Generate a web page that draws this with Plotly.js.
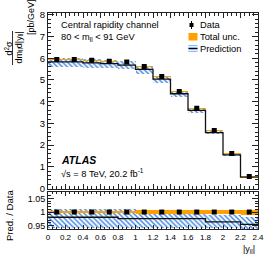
<!DOCTYPE html>
<html>
<head>
<meta charset="utf-8">
<script src="https://cdn.plot.ly/plotly-3.0.1.min.js"></script>
<style>html,body{margin:0;padding:0;background:#fff}#chart{width:266px;height:256px}</style>
</head>
<body>
<div id="chart"></div>
<script>
// |y_ll| bins (centres), bin width 0.2
var binCenters = [0.1, 0.3, 0.5, 0.7, 0.9, 1.1, 1.3, 1.5, 1.7, 1.9, 2.1, 2.3];
var binEdges = [0, 0.2, 0.4, 0.6, 0.8, 1.0, 1.2, 1.4, 1.6, 1.8, 2.0, 2.2, 2.4];
// measured cross section [pb/GeV]
var dataValues = [5.94, 5.94, 5.90, 5.86, 5.82, 5.62, 5.16, 4.47, 3.69, 2.67, 1.61, 0.55];
// relative total uncertainty on data (half width)
var totalUnc = [0.003, 0.003, 0.003, 0.003, 0.003, 0.006, 0.006, 0.006, 0.006, 0.006, 0.006, 0.009];
// prediction / data ratio and its uncertainty band (ratio units)
var predRatio = [0.981, 0.981, 0.981, 0.981, 0.976, 0.976, 0.976, 0.976, 0.976, 0.964, 0.964, 0.955];
var predLow  = [0.943, 0.943, 0.943, 0.943, 0.943, 0.940, 0.940, 0.940, 0.940, 0.940, 0.940, 0.935];
var predHigh = [1.012, 1.012, 1.012, 1.012, 1.012, 0.992, 0.992, 0.992, 0.992, 0.990, 0.990, 0.982];

var BLUE = '#3a80e0', ORANGE = '#ffa000', AX = '#222';
var FONT = 'Liberation Sans, Arial, sans-serif';

function stepY(arr){ return arr.concat([arr[arr.length-1]]); }
var predTop = dataValues.map(function(d,i){return d*predRatio[i];});
var ones = dataValues.map(function(){return 1;});

var hatch = {shape:'\\', fgcolor:BLUE, bgcolor:'white', size:3.5, solidity:0.4};

var traces = [
  // top panel
  {type:'bar', x:binCenters, width:0.2, xaxis:'x', yaxis:'y',
   base:dataValues.map(function(d,i){return d*predLow[i];}),
   y:dataValues.map(function(d,i){return d*(predHigh[i]-predLow[i]);}),
   marker:{color:'white', line:{width:0}, pattern:hatch}, showlegend:false, hoverinfo:'skip'},
  {type:'bar', x:binCenters, width:0.2, xaxis:'x', yaxis:'y',
   base:dataValues.map(function(d,i){return d*(1-totalUnc[i]);}),
   y:dataValues.map(function(d,i){return d*2*totalUnc[i];}),
   marker:{color:ORANGE, line:{width:0}}, showlegend:false, hoverinfo:'skip'},
  {type:'scatter', mode:'lines', x:binEdges, y:stepY(predTop), xaxis:'x', yaxis:'y',
   line:{shape:'hv', color:'#111', width:1.3}, showlegend:false},
  {type:'scatter', mode:'markers', x:binCenters, y:dataValues, xaxis:'x', yaxis:'y',
   marker:{symbol:'square', size:5, color:'black'}, showlegend:false},
  // ratio panel
  {type:'bar', x:binCenters, width:0.2, xaxis:'x2', yaxis:'y2',
   base:predLow, y:predHigh.map(function(h,i){return h-predLow[i];}),
   marker:{color:'white', line:{width:0}, pattern:hatch}, showlegend:false, hoverinfo:'skip'},
  {type:'bar', x:binCenters, width:0.2, xaxis:'x2', yaxis:'y2',
   base:totalUnc.map(function(u){return 1-u;}), y:totalUnc.map(function(u){return 2*u;}),
   marker:{color:ORANGE, line:{width:0}}, showlegend:false, hoverinfo:'skip'},
  {type:'scatter', mode:'lines', x:binEdges, y:stepY(predRatio), xaxis:'x2', yaxis:'y2',
   line:{shape:'hv', color:'#111', width:1.3}, showlegend:false},
  {type:'scatter', mode:'markers', x:binCenters, y:ones, xaxis:'x2', yaxis:'y2',
   marker:{symbol:'square', size:5, color:'black'}, showlegend:false}
];

// pixel helpers for paper coordinates (plot area: x 48..258, y 13..229)
function px(x){return (x-48)/210;}
function py(y){return (229-y)/216;}

function axisCommon(){
  return {showline:true, linecolor:AX, linewidth:1, mirror:'ticks', ticks:'inside',
          tickcolor:AX, tickwidth:1, zeroline:false, showgrid:false,
          tickfont:{family:FONT, size:9.5, color:'#000'}};
}
var xa = axisCommon(); Object.assign(xa, {domain:[0,1], anchor:'y', range:[0,2.4], tickmode:'linear', tick0:0, dtick:0.2,
  ticklen:5, showticklabels:false, minor:{ticks:'inside', ticklen:2.5, dtick:0.05, tickcolor:AX}});
var xa2 = axisCommon(); Object.assign(xa2, {domain:[0,1], anchor:'y2', range:[0,2.4], tickmode:'linear', tick0:0, dtick:0.2,
  ticklen:4, minor:{ticks:'inside', ticklen:2, dtick:0.05, tickcolor:AX}, tickfont:{family:FONT, size:8, color:'#000'}});
var ya = axisCommon(); Object.assign(ya, {domain:[0.1875,1], anchor:'x', range:[0,8.08], tickmode:'linear', tick0:0, dtick:1,
  ticklen:6, minor:{ticks:'inside', ticklen:3, dtick:0.2, tickcolor:AX}});
var ya2 = axisCommon(); Object.assign(ya2, {domain:[0,0.171], anchor:'x2', range:[0.938,1.073], tickmode:'linear', tick0:0.95, dtick:0.05,
  ticklen:6, minor:{ticks:'inside', ticklen:3, dtick:0.01, tickcolor:AX}, tickfont:{family:FONT, size:9, color:'#000'}});

function txt(t, x, y, opts){
  var a = {text:t, xref:'paper', yref:'paper', x:px(x), y:py(y), showarrow:false,
           xanchor:'left', yanchor:'middle', font:{family:FONT, size:9.3, color:'#000'}};
  return Object.assign(a, opts||{});
}

var annotations = [
  txt('Central rapidity channel', 59, 25),
  txt('80 &lt; m<sub>ll</sub> &lt; 91 GeV', 59, 37),
  txt('<b><i>ATLAS</i></b>', 59, 160, {font:{family:FONT, size:10.5, color:'#000'}}),
  txt('√s = 8 TeV, 20.2 fb<sup>-1</sup>', 59, 173),
  txt('Data', 198, 25),
  txt('Total unc.', 198, 37),
  txt('Prediction', 198, 49),
  // y axis title (rotated fraction)
  txt('[pb/GeV]', 31, 17, {xanchor:'center', textangle:-90, font:{family:FONT, size:9, color:'#000'}}),
  txt('d<sup>2</sup>σ', 8.5, 48, {xanchor:'center', textangle:-90, font:{family:FONT, size:9, color:'#000'}}),
  txt('dm<sub>ll</sub>d|y<sub>ll</sub>|', 18.5, 48, {xanchor:'center', textangle:-90, font:{family:FONT, size:9, color:'#000'}}),
  txt('Pred. / Data', 9, 216, {xanchor:'center', textangle:-90, font:{family:FONT, size:9.5, color:'#000'}}),
  txt('|y<sub>ll</sub>|', 257, 249, {xanchor:'right', font:{family:FONT, size:9, color:'#000'}})
];

function prect(x0,y0,x1,y1,fill){
  return {type:'rect', xref:'paper', yref:'paper', x0:px(x0), x1:px(x1), y0:py(y0), y1:py(y1),
          fillcolor:fill, line:{width:0}, layer:'above'};
}
function pline(x0,y0,x1,y1,col,w){
  return {type:'line', xref:'paper', yref:'paper', x0:px(x0), x1:px(x1), y0:py(y0), y1:py(y1),
          line:{color:col, width:w}, layer:'above'};
}
var shapes = [
  pline(12.5, 31, 12.5, 65, '#000', 0.8),
  // legend symbols
  pline(191.5, 21, 191.5, 29, '#000', 1),
  prect(189.5, 23, 193.5, 27, '#000'),
  prect(188.5, 33, 197.5, 40.5, ORANGE),
  prect(188.5, 45, 197.5, 52, 'rgba(58,128,224,0.55)'),
  pline(188.5, 46.5, 197.5, 46.5, 'white', 0.8),
  pline(188.5, 50.5, 197.5, 50.5, 'white', 0.8),
  pline(188.5, 48.5, 197.5, 48.5, '#000', 1)
];

var layout = {
  width:266, height:256, margin:{l:48, r:8, t:13, b:27},
  paper_bgcolor:'white', plot_bgcolor:'white', barmode:'overlay', bargap:0,
  showlegend:false, font:{family:FONT, size:9.3, color:'#000'},
  xaxis:xa, yaxis:ya, xaxis2:xa2, yaxis2:ya2,
  annotations:annotations, shapes:shapes
};

Plotly.newPlot('chart', traces, layout, {displayModeBar:false, staticPlot:true});
</script>
</body>
</html>
